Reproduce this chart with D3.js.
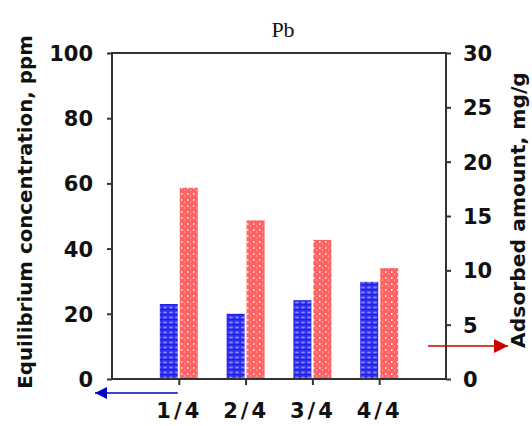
<!DOCTYPE html>
<html><head><meta charset="utf-8">
<script src="https://cdn.jsdelivr.net/npm/d3@7"></script>
<style>
html,body{margin:0;padding:0;background:#fff;}
svg{display:block;}
.tick text{font-family:"DejaVu Sans",Verdana,sans-serif;font-weight:bold;fill:#111;}
</style></head>
<body>
<svg id="c" width="532" height="426"></svg>
<script>
const categories = ["1/4", "2/4", "3/4", "4/4"];
const equilibriumPpm = [23, 20, 24.2, 29.8];
const adsorbedMgG = [17.6, 14.6, 12.8, 10.2];
const leftTicks = [0, 20, 40, 60, 80, 100];
const rightTicks = [0, 5, 10, 15, 20, 25, 30];
const title = "Pb";
const leftTitle = "Equilibrium concentration, ppm";
const rightTitle = "Adsorbed amount, mg/g";

const svg = d3.select("#c");
const m = {l: 112, r: 446, t: 53, b: 379};

const x = d3.scalePoint().domain(categories).range([m.l, m.r]).padding(1);
const yL = d3.scaleLinear().domain([0, 100]).range([m.b, m.t]);
const yR = d3.scaleLinear().domain([0, 30]).range([m.b, m.t]);

// patterns
const defs = svg.append("defs");
const pb = defs.append("pattern").attr("id","pBlue").attr("patternUnits","userSpaceOnUse")
  .attr("width",6).attr("height",5);
pb.append("rect").attr("width",6).attr("height",5).attr("fill","#3030f2");
pb.append("ellipse").attr("cx",3).attr("cy",2.5).attr("rx",2).attr("ry",1.1).attr("fill","#8484ff");
pb.append("rect").attr("x",0).attr("y",4).attr("width",6).attr("height",1).attr("fill","#2020e4");
const pr = defs.append("pattern").attr("id","pRed").attr("patternUnits","userSpaceOnUse")
  .attr("width",6).attr("height",6);
pr.append("rect").attr("width",6).attr("height",6).attr("fill","#ff6262");
pr.append("rect").attr("x",1).attr("y",1).attr("width",1.5).attr("height",2).attr("fill","#ffd6d6");
pr.append("rect").attr("x",4).attr("y",3.5).attr("width",1.2).attr("height",1.2).attr("fill","#ffb0b0");

const bw = 18, gap = 2;
svg.append("g").selectAll("rect").data(categories).join("rect")
  .attr("x", d => x(d) - bw - gap/2)
  .attr("y", (d,i) => yL(equilibriumPpm[i]))
  .attr("width", bw)
  .attr("height", (d,i) => yL(0) - yL(equilibriumPpm[i]))
  .attr("fill", "url(#pBlue)");
svg.append("g").selectAll("rect").data(categories).join("rect")
  .attr("x", d => x(d) + gap/2)
  .attr("y", (d,i) => yR(adsorbedMgG[i]))
  .attr("width", bw)
  .attr("height", (d,i) => yR(0) - yR(adsorbedMgG[i]))
  .attr("fill", "url(#pRed)");

// frame
svg.append("rect").attr("x", m.l).attr("y", m.t).attr("width", m.r - m.l).attr("height", m.b - m.t)
  .attr("fill","none").attr("stroke","#333").attr("stroke-width",2);

// axes
const gl = svg.append("g").attr("transform",`translate(${m.l},0)`)
  .call(d3.axisLeft(yL).tickValues(leftTicks).tickSize(5).tickSizeOuter(0).tickPadding(14));
const gr = svg.append("g").attr("transform",`translate(${m.r},0)`)
  .call(d3.axisRight(yR).tickValues(rightTicks).tickSize(5).tickSizeOuter(0).tickPadding(12));
const gb = svg.append("g").attr("transform",`translate(0,${m.b})`)
  .call(d3.axisBottom(x).tickSize(6).tickSizeOuter(0).tickPadding(17));
[gl, gr, gb].forEach(g => {
  g.select(".domain").remove();
  g.selectAll(".tick line").attr("stroke","#333").attr("stroke-width",2);
  g.selectAll(".tick text").style("font-size","21px");
});
gl.selectAll(".tick text").attr("dy","0.36em");
gr.selectAll(".tick text").attr("dy","0.36em");
gb.selectAll(".tick text").attr("letter-spacing","3px").attr("dy","0.75em");

// title
svg.append("text").attr("x", 283).attr("y", 37).attr("text-anchor","middle")
  .style("font-family","'Liberation Serif','Times New Roman',serif").style("font-size","22px")
  .attr("fill","#111").text(title);

// axis titles
function fitText(t, len){
  const cur = t.node().getComputedTextLength();
  const fs = parseFloat(t.style("font-size"));
  t.style("font-size", (fs * len / cur) + "px");
}
const lt = svg.append("text").attr("transform","translate(32,212) rotate(-90)")
  .attr("text-anchor","middle").style("font-family","'DejaVu Sans',Verdana,sans-serif")
  .style("font-weight","bold").style("font-size","18px").attr("fill","#111").text(leftTitle);
fitText(lt, 354);
const rt = svg.append("text").attr("transform","translate(525,210) rotate(-90)")
  .attr("text-anchor","middle").style("font-family","'DejaVu Sans',Verdana,sans-serif")
  .style("font-weight","bold").style("font-size","18px").attr("fill","#111").text(rightTitle);
fitText(rt, 276);

// arrows
defs.append("marker").attr("id","aBlue").attr("viewBox","0 0 10 10").attr("refX",10).attr("refY",5)
  .attr("markerWidth",15).attr("markerHeight",12).attr("markerUnits","userSpaceOnUse").attr("orient","auto")
  .append("path").attr("d","M0,0L10,5L0,10Z").attr("fill","#0000cc");
defs.append("marker").attr("id","aRed").attr("viewBox","0 0 10 10").attr("refX",10).attr("refY",5)
  .attr("markerWidth",16).attr("markerHeight",14).attr("markerUnits","userSpaceOnUse").attr("orient","auto")
  .append("path").attr("d","M0,0L10,5L0,10Z").attr("fill","#cc0000");
svg.append("line").attr("x1", x(categories[0]) - 1).attr("x2", 95).attr("y1", 393).attr("y2", 393)
  .attr("stroke","#0000cc").attr("stroke-width",1.5).attr("marker-end","url(#aBlue)");
svg.append("line").attr("x1", 428).attr("x2", 508).attr("y1", 346).attr("y2", 346)
  .attr("stroke","#cc0000").attr("stroke-width",1.5).attr("marker-end","url(#aRed)");
</script>
</body></html>
